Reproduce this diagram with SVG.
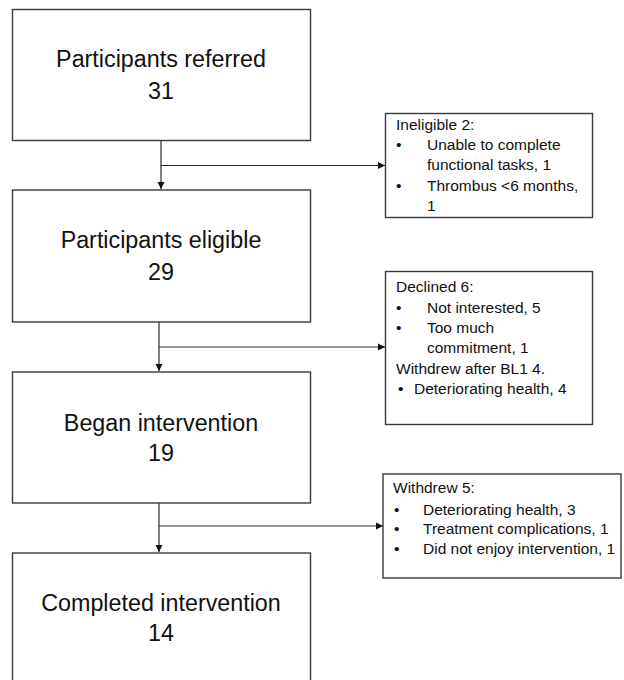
<svg xmlns="http://www.w3.org/2000/svg" width="624" height="680" viewBox="0 0 624 680">
<defs>
<style>
.box{fill:#fff;stroke:#3a3a3a;stroke-width:1.4}
.main{font-family:"Liberation Sans",Arial,sans-serif;font-size:23.3px;fill:#111;text-anchor:middle}
.side{font-family:"Liberation Sans",Arial,sans-serif;font-size:15.5px;fill:#111}
.conn{fill:none;stroke:#2a2a2a;stroke-width:1.2}
</style>
<marker id="ah" markerWidth="8" markerHeight="8" refX="7" refY="4" orient="auto" markerUnits="userSpaceOnUse">
<path d="M0,0.5 L7,4 L0,7.5 Z" fill="#111"/>
</marker>
</defs>
<rect width="624" height="680" fill="#fff"/>
<g id="connectors">
<line class="conn" x1="161" y1="140" x2="161" y2="189" marker-end="url(#ah)"/>
<line class="conn" x1="161" y1="165.5" x2="385" y2="165.5" marker-end="url(#ah)"/>
<line class="conn" x1="159" y1="322" x2="159" y2="371" marker-end="url(#ah)"/>
<line class="conn" x1="159" y1="347" x2="385" y2="347" marker-end="url(#ah)"/>
<line class="conn" x1="159" y1="503" x2="159" y2="552" marker-end="url(#ah)"/>
<line class="conn" x1="159" y1="526" x2="383" y2="526" marker-end="url(#ah)"/>
</g>
<g id="referred">
<rect class="box" x="12.5" y="9.5" width="298" height="131"/>
<text class="main" x="161" y="66.5">Participants referred</text>
<text class="main" x="161" y="98.5">31</text>
</g>
<g id="eligible">
<rect class="box" x="12.5" y="190" width="298" height="132"/>
<text class="main" x="161" y="248">Participants eligible</text>
<text class="main" x="161" y="279.5">29</text>
</g>
<g id="began">
<rect class="box" x="12.5" y="372" width="298" height="131"/>
<text class="main" x="161" y="430.5">Began intervention</text>
<text class="main" x="161" y="461">19</text>
</g>
<g id="completed">
<rect class="box" x="12.5" y="553" width="298" height="140"/>
<text class="main" x="161" y="610.5">Completed intervention</text>
<text class="main" x="161" y="641">14</text>
</g>
<g id="ineligible">
<rect class="box" x="385.5" y="113.5" width="207" height="104"/>
<text class="side" x="396" y="129.5">Ineligible 2:</text>
<text class="side" x="396" y="150">•</text>
<text class="side" x="427" y="150">Unable to complete</text>
<text class="side" x="427" y="170">functional tasks, 1</text>
<text class="side" x="396" y="190.5">•</text>
<text class="side" x="427" y="190.5">Thrombus &lt;6 months,</text>
<text class="side" x="427" y="210.5">1</text>
</g>
<g id="declined">
<rect class="box" x="385.5" y="271.5" width="207" height="153"/>
<text class="side" x="396" y="292">Declined 6:</text>
<text class="side" x="396" y="312.5">•</text>
<text class="side" x="427" y="312.5">Not interested, 5</text>
<text class="side" x="396" y="333">•</text>
<text class="side" x="427" y="333">Too much</text>
<text class="side" x="427" y="353">commitment, 1</text>
<text class="side" x="396" y="373.5">Withdrew after BL1 4.</text>
<text class="side" x="398" y="393.5">•</text>
<text class="side" x="414" y="393.5">Deteriorating health, 4</text>
</g>
<g id="withdrew">
<rect class="box" x="383" y="474" width="238" height="104"/>
<text class="side" x="393" y="493">Withdrew 5:</text>
<text class="side" x="394" y="514.5">•</text>
<text class="side" x="423" y="514.5">Deteriorating health, 3</text>
<text class="side" x="394" y="534">•</text>
<text class="side" x="423" y="534">Treatment complications, 1</text>
<text class="side" x="394" y="553.5">•</text>
<text class="side" x="423" y="553.5">Did not enjoy intervention, 1</text>
</g>
</svg>
